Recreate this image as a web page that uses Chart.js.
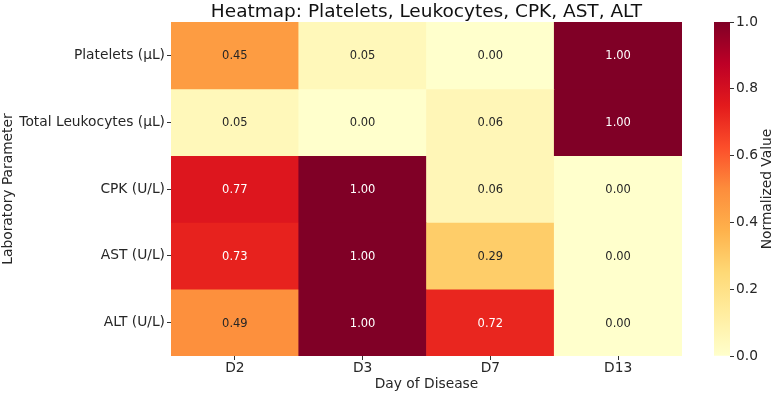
<!DOCTYPE html>
<html lang="en">
<head>
<meta charset="UTF-8">
<title>Heatmap: Platelets, Leukocytes, CPK, AST, ALT</title>
<script src="https://cdn.jsdelivr.net/npm/chart.js"></script>
<style>
    body { margin: 0; background: #fff; }
    #wrap { position: relative; width: 773px; height: 394px; }
    #heat { position: absolute; left: 0; top: 0; }
    #bar { position: absolute; left: 700px; top: 0; }
</style>
</head>
<body>
<div id="wrap">
    <canvas id="heat" width="773" height="394"></canvas>
    <canvas id="bar" width="73" height="394"></canvas>
</div>
<script>
    // data, normalized per parameter
    const days = ['D2', 'D3', 'D7', 'D13'];
    const params = ['Platelets (µL)', 'Total Leukocytes (µL)', 'CPK (U/L)', 'AST (U/L)', 'ALT (U/L)'];
    const platelets = [0.45, 0.05, 0.00, 1.00];
    const leukocytes = [0.05, 0.00, 0.06, 1.00];
    const cpk = [0.77, 1.00, 0.06, 0.00];
    const ast = [0.73, 1.00, 0.29, 0.00];
    const alt = [0.49, 1.00, 0.72, 0.00];
    const rows = [platelets, leukocytes, cpk, ast, alt];

    const FONT = '"DejaVu Sans", sans-serif';
    const INK = '#262626';
    const SIZE = 13.8;

    // YlOrRd
    const stops = ['#ffffcc', '#ffeda0', '#fed976', '#feb24c', '#fd8d3c', '#fc4e2a', '#e31a1c', '#bd0026', '#800026'];

    function hexRgb(h) {
        return [parseInt(h.slice(1, 3), 16), parseInt(h.slice(3, 5), 16), parseInt(h.slice(5, 7), 16)];
    }

    function cmap(v) {
        const t = Math.max(0, Math.min(1, v)) * (stops.length - 1);
        const i = Math.min(Math.floor(t), stops.length - 2);
        const f = t - i;
        const a = hexRgb(stops[i]), b = hexRgb(stops[i + 1]);
        const c = a.map((x, k) => Math.round(x + (b[k] - x) * f));
        return `rgb(${c[0]}, ${c[1]}, ${c[2]})`;
    }

    // one floating-bar dataset per row; y is row index (reversed)
    const datasets = rows.map((vals, r) => ({
        label: params[r],
        data: vals.map(() => [r, r + 1]),
        backgroundColor: vals.map(v => cmap(v)),
        borderWidth: 0,
        grouped: false,
        barPercentage: 1,
        categoryPercentage: 1
    }));

    const cellText = {
        id: 'cellText',
        afterDatasetsDraw(chart) {
            const ctx = chart.ctx;
            ctx.save();
            ctx.font = '11.5px ' + FONT;
            ctx.textAlign = 'center';
            ctx.textBaseline = 'middle';
            chart.data.datasets.forEach((ds, r) => {
                chart.getDatasetMeta(r).data.forEach((el, c) => {
                    const p = el.getProps(['x', 'y', 'base'], true);
                    const v = rows[r][c];
                    ctx.fillStyle = v > 0.6 ? '#ffffff' : INK;
                    ctx.fillText(v.toFixed(2), p.x, (p.y + p.base) / 2 + 1);
                });
            });
            ctx.restore();
        },
        afterDraw(chart) {
            const a = chart.chartArea;
            const ctx = chart.ctx;
            ctx.save();
            ctx.font = '18.5px ' + FONT;
            ctx.fillStyle = '#111';
            ctx.textAlign = 'center';
            ctx.textBaseline = 'alphabetic';
            ctx.fillText('Heatmap: Platelets, Leukocytes, CPK, AST, ALT', (a.left + a.right) / 2, 17);
            ctx.restore();
        }
    };

    new Chart(document.getElementById('heat'), {
        type: 'bar',
        data: { labels: days, datasets: datasets },
        options: {
            responsive: false,
            animation: false,
            layout: { padding: { top: 22, right: 91, bottom: 0, left: 0 } },
            plugins: { legend: { display: false }, tooltip: { enabled: false } },
            scales: {
                x: {
                    type: 'category',
                    offset: true,
                    border: { display: false },
                    grid: { offset: false, drawOnChartArea: false, drawTicks: true, tickLength: 4, color: '#333' },
                    ticks: { color: INK, font: { family: FONT, size: SIZE }, padding: 0, maxRotation: 0 },
                    title: { display: true, text: 'Day of Disease', color: INK, font: { family: FONT, size: SIZE }, padding: { top: 0, bottom: 1 } },
                    afterFit(s) { s.height = 38; }
                },
                y: {
                    type: 'linear',
                    min: 0,
                    max: 5,
                    reverse: true,
                    border: { display: false },
                    grid: { drawOnChartArea: false, drawTicks: true, tickLength: 4, color: '#333' },
                    afterBuildTicks(s) { s.ticks = params.map((p, i) => ({ value: i + 0.5 })); },
                    ticks: {
                        autoSkip: false,
                        color: INK,
                        padding: 2,
                        font: { family: FONT, size: SIZE },
                        callback: v => params[Math.floor(v)]
                    },
                    title: { display: true, text: 'Laboratory Parameter', color: INK, font: { family: FONT, size: SIZE }, padding: { top: 0, bottom: 0 } },
                    afterFit(s) { s.width = 171; }
                }
            }
        },
        plugins: [cellText]
    });

    // colorbar
    const cbLabel = {
        id: 'cbLabel',
        afterDraw(chart) {
            const a = chart.chartArea;
            const ctx = chart.ctx;
            ctx.save();
            ctx.translate(67, (a.top + a.bottom) / 2);
            ctx.rotate(-Math.PI / 2);
            ctx.font = SIZE + 'px ' + FONT;
            ctx.fillStyle = INK;
            ctx.textAlign = 'center';
            ctx.textBaseline = 'middle';
            ctx.fillText('Normalized Value', 0, 0);
            ctx.restore();
        }
    };

    new Chart(document.getElementById('bar'), {
        type: 'bar',
        data: {
            labels: [''],
            datasets: [{
                data: [[0, 1]],
                borderWidth: 0,
                barPercentage: 1,
                categoryPercentage: 1,
                backgroundColor(c) {
                    const a = c.chart.chartArea;
                    if (!a) return stops[0];
                    const g = c.chart.ctx.createLinearGradient(0, a.bottom, 0, a.top);
                    stops.forEach((s, i) => g.addColorStop(i / (stops.length - 1), s));
                    return g;
                }
            }]
        },
        options: {
            responsive: false,
            animation: false,
            layout: { padding: { top: 22, right: 0, bottom: 38, left: 14 } },
            plugins: { legend: { display: false }, tooltip: { enabled: false } },
            scales: {
                x: { display: false },
                y: {
                    position: 'right',
                    min: 0,
                    max: 1,
                    border: { display: false },
                    grid: { drawOnChartArea: false, drawTicks: true, tickLength: 4, color: '#333' },
                    ticks: {
                        stepSize: 0.2,
                        color: INK,
                        padding: 2,
                        font: { family: FONT, size: SIZE },
                        callback: v => v.toFixed(1)
                    },
                    afterFit(s) { s.width = 43; }
                }
            }
        },
        plugins: [cbLabel]
    });
</script>
</body>
</html>
